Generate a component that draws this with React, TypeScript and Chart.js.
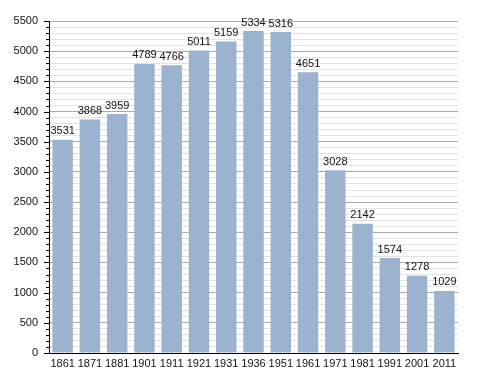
import React, { useEffect, useRef } from "react";
import { Chart, registerables } from "chart.js";

Chart.register(...registerables);

const years = ["1861", "1871", "1881", "1901", "1911", "1921", "1931", "1936", "1951", "1961", "1971", "1981", "1991", "2001", "2011"];
const population = [3531, 3868, 3959, 4789, 4766, 5011, 5159, 5334, 5316, 4651, 3028, 2142, 1574, 1278, 1029];
const yMax = 5500;
const minorStep = 100;
const majorStep = 500;

const FONT = "'Liberation Sans', Arial, sans-serif";

const valueLabels = {
  id: "valueLabels",
  afterDatasetsDraw(chart: any) {
    const ctx = chart.ctx;
    const meta = chart.getDatasetMeta(0);
    ctx.save();
    ctx.font = `11px ${FONT}`;
    ctx.fillStyle = "#111";
    ctx.textAlign = "center";
    ctx.textBaseline = "bottom";
    meta.data.forEach((el: any, i: number) => {
      ctx.fillText(String(population[i]), el.x, el.y - 3);
    });
    ctx.restore();
  },
};

const yTicks = {
  id: "yTicks",
  afterDraw(chart: any) {
    const ctx = chart.ctx;
    const y = chart.scales.y;
    const left = chart.chartArea.left;
    ctx.save();
    ctx.strokeStyle = "#000";
    ctx.lineWidth = 1;
    for (let v = 0; v <= yMax; v += minorStep) {
      const py = Math.round(y.getPixelForValue(v)) + 0.5;
      const len = v % majorStep === 0 ? 5 : 3;
      ctx.beginPath();
      ctx.moveTo(left - len, py);
      ctx.lineTo(left, py);
      ctx.stroke();
    }
    ctx.restore();
  },
};

export default function App() {
  const ref = useRef<HTMLCanvasElement>(null);
  useEffect(() => {
    if (!ref.current) return;
    const chart = new Chart(ref.current, {
      type: "bar",
      data: {
        labels: years,
        datasets: [
          {
            data: population,
            backgroundColor: "#9bb3cf",
            borderWidth: 0,
            categoryPercentage: 1,
            barPercentage: 0.75,
          },
        ],
      },
      options: {
        animation: false,
        responsive: false,
        maintainAspectRatio: false,
        layout: { padding: { top: 21, right: 30, left: 0, bottom: 0 } },
        plugins: { legend: { display: false }, tooltip: { enabled: false } },
        scales: {
          x: {
            grid: { display: false, drawTicks: false },
            border: { display: true, color: "#000", width: 1 },
            ticks: { color: "#111", font: { family: FONT, size: 11 }, padding: 4, autoSkip: false, maxRotation: 0 },
            afterFit(scale: any) {
              scale.height = 20;
            },
          },
          y: {
            min: 0,
            max: yMax,
            grid: {
              drawTicks: false,
              color: (c: any) => (c.tick && c.tick.value % majorStep === 0 ? "#aaaaaa" : "#e2e2e2"),
              lineWidth: 1,
            },
            border: { display: true, color: "#000", width: 1 },
            ticks: {
              stepSize: minorStep,
              autoSkip: false,
              padding: 11,
              color: "#111",
              font: { family: FONT, size: 11 },
              callback: (v: any) => (Number(v) % majorStep === 0 ? String(v) : ""),
            },
            afterFit(scale: any) {
              scale.width = 49;
            },
          },
        },
      },
      plugins: [valueLabels, yTicks],
    });
    return () => chart.destroy();
  }, []);
  return (
    <div style={{ position: "fixed", left: 0, top: 0, width: 488, height: 373, background: "#fff" }}>
      <canvas ref={ref} width={488} height={373} style={{ width: 488, height: 373 }} />
    </div>
  );
}
